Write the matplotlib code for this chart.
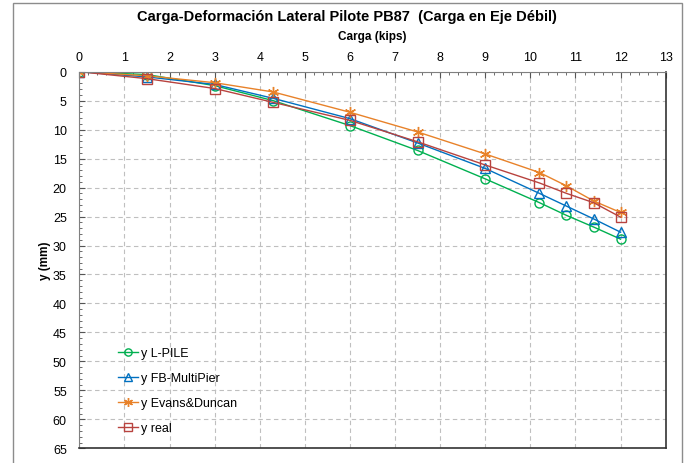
import matplotlib
matplotlib.use("Agg")
import matplotlib.pyplot as plt
from matplotlib.ticker import MultipleLocator

plt.rcParams['font.family'] = ['Liberation Sans', 'DejaVu Sans']

# Carga (kips) and lateral deflection y (mm)
carga = [0, 1.5, 3, 4.3, 6, 7.5, 9, 10.2, 10.8, 11.4, 12]
y_lpile = [0, 0.5, 2.4, 5.0, 9.3, 13.6, 18.5, 22.6, 24.8, 26.8, 28.9]
y_fb = [0, 0.9, 2.2, 4.6, 8.1, 12.3, 16.7, 21.0, 23.2, 25.4, 27.7]
y_evans = [0, 0.7, 1.9, 3.5, 7.0, 10.4, 14.2, 17.4, 19.7, 22.3, 24.3]
y_real = [0, 1.2, 2.9, 5.3, 8.4, 12.1, 16.1, 19.2, 21.0, 22.6, 25.1]

series = [
    ("y L-PILE", y_lpile, "#00B050", "o"),
    ("y FB-MultiPier", y_fb, "#0070C0", "^"),
    ("y Evans&Duncan", y_evans, "#E8822A", "x"),
    ("y real", y_real, "#B8433F", "s"),
]

fig = plt.figure(figsize=(6.93, 4.64), dpi=100)
ax = fig.add_axes([79.3 / 693, 1 - 449.3 / 464, (665.7 - 79.3) / 693, (449.3 - 72.7) / 464])

for label, vals, color, marker in series:
    if marker == "x":
        ax.plot(carga, vals, color=color, lw=1.0, marker=(6, 2, 0), ms=8, mew=1.0, label=label)
    else:
        ax.plot(carga, vals, color=color, lw=1.0, marker=marker, ms=6.5,
                mfc="none", mec=color, mew=1.0, label=label)

ax.set_xlim(0, 13)
ax.set_ylim(65, 0)
ax.xaxis.set_major_locator(MultipleLocator(1))
ax.xaxis.set_minor_locator(MultipleLocator(0.2))
ax.yaxis.set_major_locator(MultipleLocator(5))
ax.yaxis.set_minor_locator(MultipleLocator(1))
ax.xaxis.tick_top()
ax.xaxis.set_label_position("top")
ax.tick_params(which="both", direction="in", labelsize=9, colors="#555555", labelcolor="black")
ax.tick_params(which="major", length=4)
ax.tick_params(which="minor", length=2.5)
ax.tick_params(axis="x", pad=6)
ax.tick_params(axis="y", pad=9)
ax.grid(True, which="major", color="#BFBFBF", ls=(0, (4, 3)), lw=0.8)

for side in ["top", "left"]:
    ax.spines[side].set_color("#808080")
for side in ["bottom", "right"]:
    ax.spines[side].set_color("#333333")
    ax.spines[side].set_linewidth(1.2)

ax.set_xlabel("Carga (kips)", fontsize=8.5, fontweight="bold", labelpad=9)
ax.set_ylabel("y (mm)", fontsize=8.5, fontweight="bold", labelpad=1)
fig.text(0.5, 1 - 17 / 464, "Carga-Deformación Lateral Pilote PB87  (Carga en Eje Débil)",
         ha="center", va="center", fontsize=10.5, fontweight="bold")

leg = ax.legend(loc="upper left", bbox_to_anchor=(0.057, 0.282), frameon=False,
                fontsize=9, handlelength=1.6, handletextpad=0.3, labelspacing=1.05,
                borderaxespad=0, markerscale=0.8)

# outer chart border
fig.patches.append(plt.Rectangle((13 / 693, -0.01), (682 - 13) / 693, 1 - 4 / 464 + 0.01,
                                 transform=fig.transFigure, fill=False, ec="#8C8C8C", lw=1.0))

fig.savefig("out.png", dpi=100)
